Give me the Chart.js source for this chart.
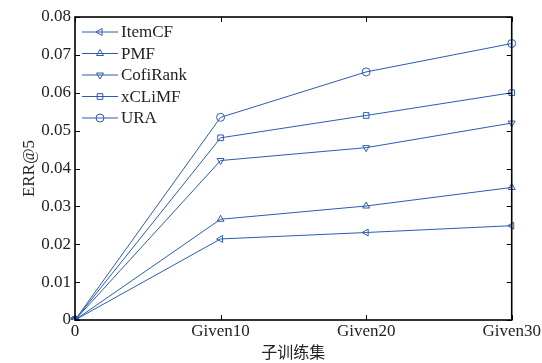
<!DOCTYPE html>
<html lang="zh">
<head>
    <meta charset="UTF-8">
    <title>ERR@5</title>
    <style>
        html, body { margin: 0; padding: 0; background: #fff; }
        #wrap { width: 542px; height: 363px; }
    </style>
    <script src="https://cdn.jsdelivr.net/npm/chart.js@4.4.0/dist/chart.umd.min.js"></script>
</head>
<body>
    <div id="wrap"><canvas id="err-chart" width="542" height="363"></canvas></div>
    <script>
        const subsets = ["0", "Given10", "Given20", "Given30"];
        const itemCF = [0, 0.0214, 0.0231, 0.0249];
        const pmf = [0, 0.0266, 0.0301, 0.0350];
        const cofiRank = [0, 0.0421, 0.0455, 0.0520];
        const xCLiMF = [0, 0.0481, 0.0540, 0.0600];
        const ura = [0, 0.0535, 0.0655, 0.0730];

        const blue = "rgb(44, 92, 176)";
        const serif = "'Liberation Serif', 'Noto Sans CJK SC', serif";

        function series(label, data, style, rot) {
            return {
                label: label, data: data,
                borderColor: blue, borderWidth: 1,
                backgroundColor: "rgba(0,0,0,0)",
                pointStyle: style, pointRotation: rot,
                pointRadius: 4, pointBorderWidth: 1,
                pointBorderColor: blue, pointBackgroundColor: "rgba(0,0,0,0)",
                tension: 0
            };
        }

        // frame, inward ticks and legend
        const framePlugin = {
            id: "frame",
            afterDraw(chart) {
                const ctx = chart.ctx, a = chart.chartArea;
                const xs = chart.scales.x, ys = chart.scales.y;
                ctx.save();
                ctx.strokeStyle = "#000";
                ctx.lineWidth = 1;
                ys.ticks.forEach((t, i) => {
                    const py = Math.round(ys.getPixelForTick(i)) + 0.5;
                    ctx.beginPath();
                    ctx.moveTo(a.left, py); ctx.lineTo(a.left + 5, py);
                    ctx.moveTo(a.right, py); ctx.lineTo(a.right - 5, py);
                    ctx.stroke();
                });
                xs.ticks.forEach((t, i) => {
                    const px = Math.round(xs.getPixelForTick(i)) + 0.5;
                    ctx.beginPath();
                    ctx.moveTo(px, a.bottom); ctx.lineTo(px, a.bottom - 5);
                    ctx.moveTo(px, a.top); ctx.lineTo(px, a.top + 5);
                    ctx.stroke();
                });
                ctx.lineWidth = 1.6;
                ctx.strokeRect(a.left, a.top, a.right - a.left, a.bottom - a.top);

                // legend
                ctx.font = "17px " + serif;
                ctx.textBaseline = "middle";
                chart.data.datasets.forEach((ds, i) => {
                    const y = a.top + 15 + i * 21.5;
                    ctx.strokeStyle = blue;
                    ctx.fillStyle = "rgba(0,0,0,0)";
                    ctx.lineWidth = 1;
                    ctx.beginPath();
                    ctx.moveTo(a.left + 7, y); ctx.lineTo(a.left + 43, y);
                    ctx.stroke();
                    Chart.helpers.drawPoint(ctx, {
                        pointStyle: ds.pointStyle, rotation: ds.pointRotation,
                        radius: 4, borderWidth: 1
                    }, a.left + 25, y);
                    ctx.fillStyle = "#222";
                    ctx.fillText(ds.label, a.left + 46, y + 1);
                });
                ctx.restore();
            }
        };

        new Chart(document.getElementById("err-chart"), {
            type: "line",
            data: {
                labels: subsets,
                datasets: [
                    series("ItemCF", itemCF, "triangle", -90),
                    series("PMF", pmf, "triangle", 0),
                    series("CofiRank", cofiRank, "triangle", 180),
                    series("xCLiMF", xCLiMF, "rect", 0),
                    series("URA", ura, "circle", 0)
                ]
            },
            options: {
                responsive: false,
                animation: false,
                layout: { padding: { top: 17, right: 29, left: 19, bottom: 0 } },
                plugins: { legend: { display: false }, tooltip: { enabled: false } },
                scales: {
                    x: {
                        offset: false,
                        grid: { display: false, drawTicks: false },
                        border: { display: false },
                        ticks: { color: "#222", font: { family: serif, size: 17 }, padding: 1, maxRotation: 0 },
                        title: { display: true, text: "子训练集", color: "#222", font: { family: serif, size: 16 }, padding: 0 },
                        afterFit(s) { s.height = 43; }
                    },
                    y: {
                        min: 0, max: 0.08,
                        grid: { display: false, drawTicks: false },
                        border: { display: false },
                        ticks: {
                            stepSize: 0.01, color: "#222", font: { family: serif, size: 17 }, padding: 4,
                            callback: v => Number(v.toFixed(2)).toString()
                        },
                        title: { display: true, text: "ERR@5", color: "#222", font: { family: serif, size: 17 }, padding: 0 },
                        afterFit(s) { s.width = 56; }
                    }
                }
            },
            plugins: [framePlugin]
        });
    </script>
</body>
</html>
